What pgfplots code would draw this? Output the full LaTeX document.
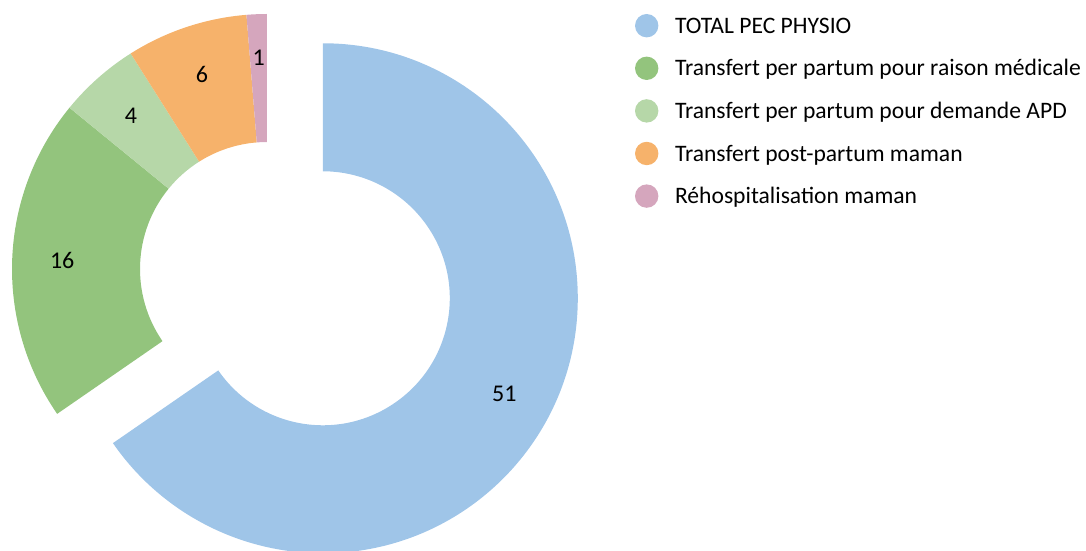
\documentclass[border=0pt]{standalone}
\usepackage{pgfplots}
\pgfplotsset{compat=1.18}
\usepackage{pgfplotstable}
\usepackage{fontspec}
\setmainfont{Carlito}
\definecolor{cBlue}{HTML}{9FC5E8}
\definecolor{cGreen}{HTML}{93C47D}
\definecolor{cLGreen}{HTML}{B6D7A8}
\definecolor{cOrange}{HTML}{F6B26B}
\definecolor{cPink}{HTML}{D5A6BD}

\pgfplotstableread{
value
51
16
4
6
1
}\piedata

\newcommand\getv[2]{\pgfplotstablegetelem{#1}{value}\of\piedata\edef#2{\pgfplotsretval}}
% sector: cx cy a1 a2 R r color
\newcommand\sector[7]{%
  \fill[#7] (axis cs:#1,#2) ++(#3:#5pt) arc[start angle=#3,end angle=#4,radius=#5pt]
    -- ++(#4:{(#6-#5)*1pt}) arc[start angle=#4,end angle=#3,radius=#6pt] -- cycle;}
\pgfplotsset{legcirc/.style={legend image code/.code={%
  \path[draw=none,fill=none] (0pt,-5pt) rectangle (23.4pt,19.3pt);
  \fill[draw=none,fill=#1] (11.7pt,7.6pt) circle (11.7pt);}}}

\begin{document}
\begin{tikzpicture}
\getv{0}\va \getv{1}\vb \getv{2}\vc \getv{3}\vd \getv{4}\ve
\pgfmathsetmacro\total{\va+\vb+\vc+\vd+\ve}
\pgfmathsetmacro\aA{90}
\pgfmathsetmacro\aB{\aA-360*(\va/\total)}
\pgfmathsetmacro\aC{\aB-360*(\vb/\total)}
\pgfmathsetmacro\aD{\aC-360*(\vc/\total)}
\pgfmathsetmacro\aE{\aD-360*(\vd/\total)}
\pgfmathsetmacro\aF{\aE-360*(\ve/\total)}
\def\cx{267}\def\cy{-269}
\def\Ro{255}\def\Ri{127}\def\Rl{205}
\pgfmathsetmacro\mA{(\aA+\aB)/2}
\pgfmathsetmacro\mB{(\aB+\aC)/2}
\pgfmathsetmacro\mC{(\aC+\aD)/2}
\pgfmathsetmacro\mD{(\aD+\aE)/2}
\pgfmathsetmacro\mE{(\aE+\aF)/2}
\pgfmathsetmacro\bcx{\cx+63*cos(\mA)}
\pgfmathsetmacro\bcy{\cy+63*sin(\mA)}
\pgfmathsetmacro\lxA{\bcx+\Rl*cos(\mA)}\pgfmathsetmacro\lyA{\bcy+\Rl*sin(\mA)}
\pgfmathsetmacro\lxB{\cx+\Rl*cos(\mB)}\pgfmathsetmacro\lyB{\cy+\Rl*sin(\mB)}
\pgfmathsetmacro\lxC{\cx+\Rl*cos(\mC)}\pgfmathsetmacro\lyC{\cy+\Rl*sin(\mC)}
\pgfmathsetmacro\lxD{\cx+\Rl*cos(\mD)}\pgfmathsetmacro\lyD{\cy+\Rl*sin(\mD)}
\pgfmathsetmacro\lxE{\cx+\Rl*cos(\mE)}\pgfmathsetmacro\lyE{\cy+\Rl*sin(\mE)}
\begin{axis}[
  x=1pt, y=1pt,
  xmin=0, xmax=1086, ymin=-551, ymax=0,
  hide axis, clip=false,
  legend cell align=left,
  legend style={at={(axis cs:635,-14)}, anchor=north west, draw=none, fill=none,
    inner sep=0pt, outer sep=0pt, row sep=18.3pt, column sep=16.6pt,
    cells={anchor=base west},
    font=\fontsize{23.6}{28}\selectfont,
    nodes={inner sep=0pt, text height=16pt, text depth=5pt}},
]
\sector{\bcx}{\bcy}{\aA}{\aB}{\Ro}{\Ri}{cBlue}
\sector{\cx}{\cy}{\aB}{\aC}{\Ro}{\Ri}{cGreen}
\sector{\cx}{\cy}{\aC}{\aD}{\Ro}{\Ri}{cLGreen}
\sector{\cx}{\cy}{\aD}{\aE}{\Ro}{\Ri}{cOrange}
\sector{\cx}{\cy}{\aE}{\aF}{\Ro}{\Ri}{cPink}
\begin{scope}[font=\fontsize{24}{28}\selectfont]
\node at (axis cs:\lxA,\lyA) {\va};
\node at (axis cs:\lxB,\lyB) {\vb};
\node at (axis cs:\lxC,\lyC) {\vc};
\node at (axis cs:\lxD,\lyD) {\vd};
\node at (axis cs:\lxE,\lyE+6) {\ve};
\end{scope}
\addlegendimage{legcirc=cBlue}
\addlegendentry{TOTAL PEC PHYSIO}
\addlegendimage{legcirc=cGreen}
\addlegendentry{Transfert per partum pour raison médicale}
\addlegendimage{legcirc=cLGreen}
\addlegendentry{Transfert per partum pour demande APD}
\addlegendimage{legcirc=cOrange}
\addlegendentry{Transfert post-partum maman}
\addlegendimage{legcirc=cPink}
\addlegendentry{Réhospitalisation maman}
\end{axis}
\pgfresetboundingbox
\path (0,0) rectangle (1086pt,551pt);
\end{tikzpicture}
\end{document}
